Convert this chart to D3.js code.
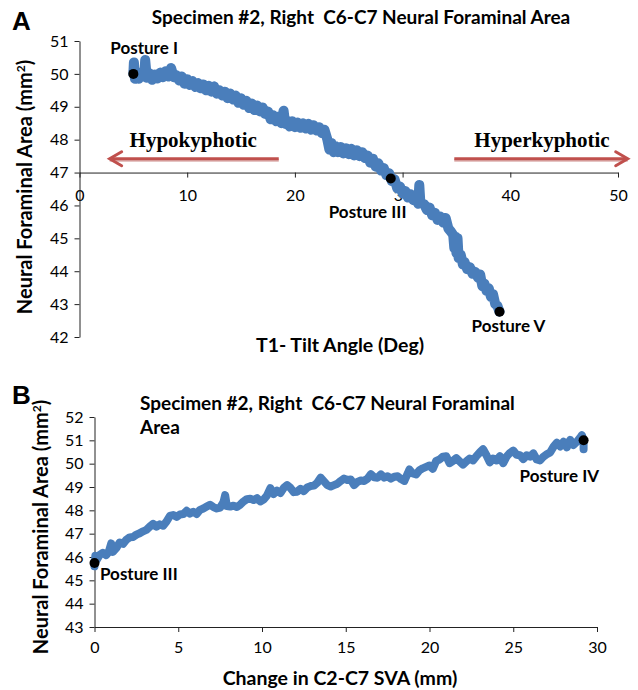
<!DOCTYPE html>
<html>
<head>
<meta charset="utf-8">
<script src="https://cdn.jsdelivr.net/npm/d3@7/dist/d3.min.js"></script>
<style>
  body { margin: 0; background: #fff; }
  svg { display: block; }
  text { white-space: pre; }
  .tick text { font-family: Lato, "Open Sans", sans-serif; font-size: 16px; fill: #000; }
  .domain, .tick line { stroke: #222; }
</style>
</head>
<body>
<div id="chart"></div>
<script>
// panel A: T1 tilt angle vs foraminal area
const tiltAngle = [5.00, 5.05, 5.15, 5.25, 5.50, 5.75, 6.00, 6.10, 6.25, 6.50, 6.75, 7.00, 7.25, 7.50, 7.75, 8.00, 8.25, 8.50, 8.75, 9.00,
  9.25, 9.50, 9.75, 10.00, 10.25, 10.50, 10.75, 11.00, 11.25, 11.50, 11.75, 12.00, 12.25, 12.50, 12.75, 13.00, 13.25, 13.50, 13.75, 14.00,
  14.25, 14.50, 14.75, 15.00, 15.25, 15.50, 15.75, 16.00, 16.25, 16.50, 16.75, 17.00, 17.25, 17.50, 17.75, 18.00, 18.25, 18.50, 18.75, 18.95,
  19.10, 19.25, 19.50, 19.75, 20.00, 20.25, 20.50, 20.75, 21.00, 21.25, 21.50, 21.75, 22.00, 22.25, 22.50, 22.75, 23.00, 23.20, 23.40, 23.60,
  23.80, 24.00, 24.25, 24.50, 24.75, 25.00, 25.25, 25.50, 25.75, 26.00, 26.25, 26.50, 26.75, 27.00, 27.25, 27.50, 27.75, 28.00, 28.25, 28.50,
  28.75, 29.00, 29.25, 29.50, 29.75, 30.00, 30.25, 30.50, 30.75, 31.00, 31.25, 31.45, 31.55, 31.65, 32.00, 32.25, 32.50, 32.75, 33.00, 33.25,
  33.50, 33.75, 34.00, 34.25, 34.50, 34.70, 34.80, 34.90, 35.00, 35.10, 35.20, 35.40, 35.60, 35.75, 36.00, 36.25, 36.50, 36.75, 37.00, 37.20,
  37.40, 37.60, 37.80, 38.00, 38.20, 38.40, 38.60, 38.80, 39.00];
const tiltArea = [50.00, 50.35, 49.85, 49.95, 49.85, 50.05, 49.92, 50.42, 49.88, 50.02, 49.82, 49.98, 49.86, 50.04, 49.90, 50.08, 49.92, 50.18, 49.90, 49.96,
  49.80, 49.92, 49.70, 49.84, 49.66, 49.78, 49.60, 49.72, 49.56, 49.68, 49.50, 49.64, 49.46, 49.62, 49.40, 49.50, 49.34, 49.46, 49.26, 49.40,
  49.22, 49.34, 49.12, 49.26, 49.06, 49.18, 48.96, 49.10, 48.90, 49.04, 48.86, 48.98, 48.78, 48.86, 48.62, 48.74, 48.56, 48.70, 48.50, 48.88,
  48.48, 48.58, 48.40, 48.56, 48.38, 48.52, 48.36, 48.50, 48.34, 48.48, 48.30, 48.44, 48.28, 48.38, 48.20, 48.30, 48.02, 47.70, 47.90, 47.62,
  47.80, 47.62, 47.78, 47.58, 47.74, 47.56, 47.72, 47.52, 47.68, 47.50, 47.62, 47.44, 47.52, 47.30, 47.42, 47.18, 47.28, 47.06, 47.14, 46.92,
  46.98, 46.74, 46.80, 46.52, 46.58, 46.36, 46.44, 46.24, 46.34, 46.16, 46.26, 46.05, 46.62, 46.08, 46.04, 45.86, 45.94, 45.70, 45.78, 45.56,
  45.66, 45.48, 45.62, 45.30, 45.20, 45.10, 44.70, 45.05, 44.55, 45.00, 44.40, 44.50, 44.20, 44.28, 44.06, 44.12, 43.92, 43.98, 43.80, 43.90,
  43.55, 43.62, 43.40, 43.48, 43.22, 43.30, 43.00, 42.95, 42.77];
const tiltTicks = [0, 10, 20, 30, 40, 50];
const areaTicksA = [42, 43, 44, 45, 46, 47, 48, 49, 50, 51];
const posturesA = [
  { name: "Posture I", x: 5.0, y: 50.0 },
  { name: "Posture III", x: 28.9, y: 46.82 },
  { name: "Posture V", x: 39.0, y: 42.77 }
];

// panel B: change in C2-C7 SVA vs foraminal area
const svaChange = [0, 0.05, 0.15, 0.30, 0.50, 0.70, 0.85, 1.00, 1.10, 1.30, 1.50, 1.70, 1.90, 2.10, 2.30, 2.50, 2.70, 2.90, 3.10, 3.30,
  3.50, 3.70, 3.90, 4.10, 4.30, 4.50, 4.70, 4.90, 5.10, 5.30, 5.50, 5.70, 5.90, 6.10, 6.30, 6.50, 6.70, 6.90, 7.10, 7.30,
  7.50, 7.70, 7.80, 7.90, 8.10, 8.30, 8.50, 8.70, 8.90, 9.10, 9.30, 9.50, 9.70, 9.90, 10.10, 10.30, 10.50, 10.70, 10.90, 11.10,
  11.30, 11.50, 11.70, 11.90, 12.10, 12.30, 12.50, 12.70, 12.90, 13.10, 13.30, 13.50, 13.70, 13.90, 14.10, 14.30, 14.50, 14.70, 14.90, 15.10,
  15.30, 15.50, 15.70, 15.90, 16.10, 16.30, 16.50, 16.70, 16.90, 17.10, 17.30, 17.50, 17.70, 17.90, 18.10, 18.30, 18.50, 18.70, 18.80, 19.00,
  19.20, 19.40, 19.60, 19.80, 20.00, 20.20, 20.40, 20.60, 20.80, 21.00, 21.20, 21.40, 21.60, 21.80, 22.00, 22.20, 22.40, 22.60, 22.80, 23.00,
  23.20, 23.40, 23.60, 23.80, 24.00, 24.20, 24.40, 24.60, 24.80, 25.00, 25.20, 25.40, 25.60, 25.80, 26.00, 26.20, 26.40, 26.60, 26.80, 27.00,
  27.20, 27.40, 27.60, 27.80, 28.00, 28.20, 28.40, 28.60, 28.80, 29.00, 29.10, 29.20, 29.20];
const svaArea = [45.60, 46.05, 45.90, 46.08, 46.18, 46.08, 46.22, 46.58, 46.22, 46.38, 46.62, 46.56, 46.74, 46.84, 46.86, 46.96, 47.02, 47.10, 47.16, 47.30,
  47.42, 47.30, 47.40, 47.34, 47.52, 47.76, 47.80, 47.72, 47.82, 47.84, 47.98, 47.86, 47.94, 47.84, 48.02, 48.08, 48.16, 48.24, 48.14, 48.08,
  48.12, 48.35, 48.65, 48.18, 48.16, 48.20, 48.14, 48.24, 48.38, 48.48, 48.50, 48.44, 48.52, 48.38, 48.46, 48.64, 48.95, 48.70, 48.84, 48.74,
  48.96, 49.08, 48.96, 48.78, 48.80, 48.92, 48.82, 48.98, 49.04, 49.06, 49.18, 49.40, 49.24, 49.08, 49.02, 49.08, 49.14, 49.26, 49.36, 49.30,
  49.32, 49.08, 49.22, 49.28, 49.26, 49.36, 49.55, 49.42, 49.40, 49.54, 49.40, 49.46, 49.36, 49.44, 49.46, 49.34, 49.26, 49.58, 49.75, 49.58,
  49.54, 49.72, 49.80, 49.86, 49.92, 49.78, 50.12, 50.18, 50.30, 50.32, 50.02, 50.12, 50.24, 50.10, 49.96, 50.10, 50.22, 50.14, 50.32, 50.48,
  50.62, 50.36, 50.06, 50.22, 50.14, 50.32, 50.02, 50.30, 50.46, 50.56, 50.38, 50.36, 50.20, 50.36, 50.30, 50.44, 50.18, 50.14, 50.30, 50.40,
  50.48, 50.72, 50.90, 50.74, 50.94, 50.70, 51.02, 50.80, 50.94, 51.12, 51.22, 51.00, 50.62];
const svaTicks = [0, 5, 10, 15, 20, 25, 30];
const areaTicksB = [43, 44, 45, 46, 47, 48, 49, 50, 51, 52];
const posturesB = [
  { name: "Posture III", x: 0, y: 45.74 },
  { name: "Posture IV", x: 29.2, y: 51.0 }
];

const lineColor = "#4a7ebb";
const arrowColor = "#c0504d";
const font = "Lato, 'Open Sans', sans-serif";

const svg = d3.select("#chart").append("svg")
  .attr("width", 638)
  .attr("height", 690);

// ---------- panel A ----------
let xA = d3.scaleLinear().domain([0, 50]).range([79.5, 618]);
let yA = d3.scaleLinear().domain([42, 51]).range([337, 41]);

svg.append("g")
  .attr("transform", "translate(0," + yA(47) + ")")
  .call(d3.axisBottom(xA).tickValues(tiltTicks).tickSize(5).tickSizeOuter(0).tickPadding(12));

svg.append("g")
  .attr("transform", "translate(" + xA(0) + ",0)")
  .call(d3.axisLeft(yA).tickValues(areaTicksA).tickSize(5).tickSizeOuter(0).tickPadding(6));

let lineA = d3.line().x((d, i) => xA(tiltAngle[i])).y(d => yA(d));

svg.append("path")
  .datum(tiltArea)
  .attr("d", lineA)
  .attr("fill", "none")
  .attr("stroke", lineColor)
  .attr("stroke-width", 10)
  .attr("stroke-linejoin", "round")
  .attr("stroke-linecap", "round");

svg.selectAll("circle.pa")
  .data(posturesA)
  .enter().append("circle")
  .attr("class", "pa")
  .attr("cx", d => xA(d.x))
  .attr("cy", d => yA(d.y))
  .attr("r", 5)
  .attr("fill", "#000");

// posture labels (offsets from their points)
const labelOffA = [[-23, -20], [-62, 40], [-28, 20]];
svg.selectAll("text.pa")
  .data(posturesA)
  .enter().append("text")
  .attr("class", "pa")
  .attr("x", (d, i) => xA(d.x) + labelOffA[i][0])
  .attr("y", (d, i) => yA(d.y) + labelOffA[i][1])
  .attr("font-family", font)
  .attr("font-weight", "bold")
  .attr("font-size", 17)
  .text(d => d.name);

// direction arrows
const arrows = [
  { label: "Hypokyphotic", from: 18.5, to: 2.8 },
  { label: "Hyperkyphotic", from: 34.8, to: 50.9 }
];
let arrowY = yA(47.42);
arrows.forEach(a => {
  let x0 = xA(a.from), x1 = xA(a.to);
  let dir = x1 > x0 ? 1 : -1;
  svg.append("line")
    .attr("x1", x0).attr("y1", arrowY + 1.5)
    .attr("x2", x1).attr("y2", arrowY + 1.5)
    .attr("stroke", "#dcb0af")
    .attr("stroke-width", 3);
  svg.append("line")
    .attr("x1", x0).attr("y1", arrowY)
    .attr("x2", x1 - dir * 1).attr("y2", arrowY)
    .attr("stroke", arrowColor)
    .attr("stroke-width", 3);
  svg.append("path")
    .attr("d", "M" + (x1 - dir * 12) + "," + (arrowY - 7) + "L" + x1 + "," + arrowY + "L" + (x1 - dir * 12) + "," + (arrowY + 7))
    .attr("fill", "none")
    .attr("stroke", arrowColor)
    .attr("stroke-width", 3)
    .attr("stroke-linecap", "round");
  svg.append("text")
    .attr("x", (x0 + x1) / 2 + dir * 1)
    .attr("y", arrowY - 12)
    .attr("text-anchor", "middle")
    .attr("font-family", "'Liberation Serif', 'Times New Roman', serif")
    .attr("font-weight", "bold")
    .attr("font-size", 21)
    .text(a.label);
});

svg.append("text")
  .attr("x", 361).attr("y", 24)
  .attr("text-anchor", "middle")
  .attr("font-family", font)
  .attr("font-weight", "bold")
  .attr("font-size", 19)
  .text("Specimen #2, Right  C6-C7 Neural Foraminal Area");

svg.append("text")
  .attr("x", 340).attr("y", 352)
  .attr("text-anchor", "middle")
  .attr("font-family", font)
  .attr("font-weight", "bold")
  .attr("font-size", 19.5)
  .text("T1- Tilt Angle (Deg)");

svg.append("text")
  .attr("transform", "translate(32,187) rotate(-90)")
  .attr("text-anchor", "middle")
  .attr("font-family", font)
  .attr("font-weight", "bold")
  .attr("font-size", 20)
  .html("Neural Foraminal Area (mm<tspan baseline-shift='super' font-size='12'>2</tspan>)");

svg.append("text")
  .attr("x", 12).attr("y", 30)
  .attr("font-family", "'Liberation Sans', Arial, sans-serif")
  .attr("font-weight", "bold")
  .attr("font-size", 26)
  .text("A");

// ---------- panel B ----------
let xB = d3.scaleLinear().domain([0, 30]).range([94.5, 597]);
let yB = d3.scaleLinear().domain([43, 52]).range([627, 417]);

svg.append("g")
  .attr("transform", "translate(0," + yB(43) + ")")
  .call(d3.axisBottom(xB).tickValues(svaTicks).tickSize(5).tickSizeOuter(0).tickPadding(10));

svg.append("g")
  .attr("transform", "translate(" + xB(0) + ",0)")
  .call(d3.axisLeft(yB).tickValues(areaTicksB).tickSize(5).tickSizeOuter(0).tickPadding(6));

let lineB = d3.line().x((d, i) => xB(svaChange[i])).y(d => yB(d));

svg.append("path")
  .datum(svaArea)
  .attr("d", lineB)
  .attr("fill", "none")
  .attr("stroke", lineColor)
  .attr("stroke-width", 8)
  .attr("stroke-linejoin", "round")
  .attr("stroke-linecap", "round");

svg.selectAll("circle.pb")
  .data(posturesB)
  .enter().append("circle")
  .attr("class", "pb")
  .attr("cx", d => xB(d.x))
  .attr("cy", d => yB(d.y))
  .attr("r", 5)
  .attr("fill", "#000");

const labelOffB = [[5.5, 17], [-64, 42]];
svg.selectAll("text.pb")
  .data(posturesB)
  .enter().append("text")
  .attr("class", "pb")
  .attr("x", (d, i) => xB(d.x) + labelOffB[i][0])
  .attr("y", (d, i) => yB(d.y) + labelOffB[i][1])
  .attr("font-family", font)
  .attr("font-weight", "bold")
  .attr("font-size", 17)
  .text(d => d.name);

let titleB = svg.append("text")
  .attr("font-family", font)
  .attr("font-weight", "bold")
  .attr("font-size", 19);
titleB.append("tspan").attr("x", 140).attr("y", 410).text("Specimen #2, Right  C6-C7 Neural Foraminal");
titleB.append("tspan").attr("x", 140).attr("y", 434).text("Area");

svg.append("text")
  .attr("x", 340).attr("y", 685)
  .attr("text-anchor", "middle")
  .attr("font-family", font)
  .attr("font-weight", "bold")
  .attr("font-size", 19.5)
  .text("Change in C2-C7 SVA (mm)");

svg.append("text")
  .attr("transform", "translate(48,527) rotate(-90)")
  .attr("text-anchor", "middle")
  .attr("font-family", font)
  .attr("font-weight", "bold")
  .attr("font-size", 20)
  .html("Neural Foraminal Area (mm<tspan baseline-shift='super' font-size='12'>2</tspan>)");

svg.append("text")
  .attr("x", 12).attr("y", 404)
  .attr("font-family", "'Liberation Sans', Arial, sans-serif")
  .attr("font-weight", "bold")
  .attr("font-size", 26)
  .text("B");
</script>
</body>
</html>
